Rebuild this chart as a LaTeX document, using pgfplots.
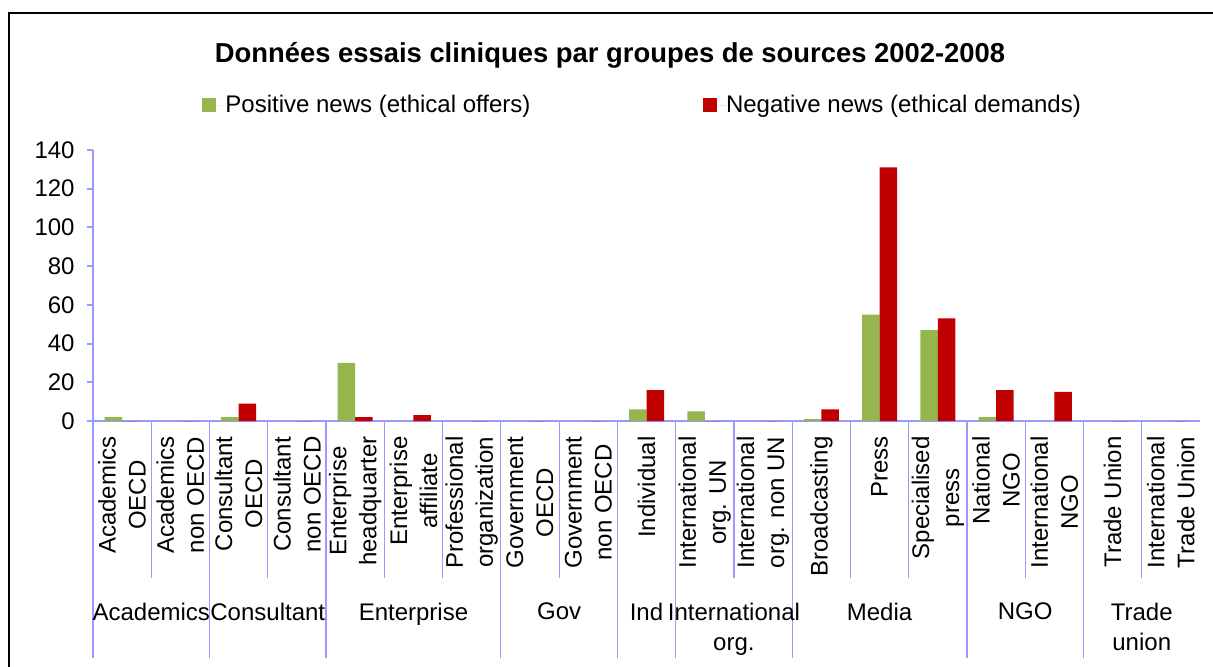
\documentclass[border=0pt]{standalone}
\usepackage{fontspec}
\setmainfont{Liberation Sans}
\usepackage{pgfplots}
\pgfplotsset{compat=1.18}
\definecolor{axcol}{RGB}{153,153,255}
\definecolor{gbar}{RGB}{148,182,76}
\definecolor{rbar}{RGB}{192,0,0}
\pgfplotsset{sqlegend/.style={legend image code/.code={\fill[##1] (0pt,-3.5pt) rectangle (7pt,3.5pt); \path (0pt,0pt) -- (11.5pt,0pt);}}}
\begin{document}
\begin{tikzpicture}
\useasboundingbox (0,0) rectangle (606.5pt,333pt);
\draw[line width=1.3pt] (4.5pt,-1pt) -- (4.5pt,326.5pt) -- (607pt,326.5pt);
\node[font=\fontsize{13.7}{16}\selectfont\bfseries, anchor=base, inner sep=0pt] at (305pt,302pt) {Données essais cliniques par groupes de sources 2002-2008};
\begin{axis}[
  at={(46.5pt,122.5pt)}, anchor=south west,
  scale only axis, width=553.5pt, height=135.5pt,
  xmin=-0.5, xmax=18.5, ymin=0, ymax=140,
  axis x line=bottom, axis y line=left,
  axis line style={-, draw=axcol, line width=1pt},
  ytick={0,20,...,140},
  tick align=outside,
  major tick length=3pt,
  every tick/.style={draw=axcol, line width=1pt},
  yticklabel style={font=\fontsize{12}{14}\selectfont, inner sep=0pt},
  yticklabel shift=6pt,
  xticklabel shift=4.5pt,
  /pgf/number format/assume math mode=true,
  xtick={0,...,18},
  xticklabels={{Academics\\OECD},{Academics\\non OECD},{Consultant\\OECD},{Consultant\\non OECD},{Enterprise\\headquarter},{Enterprise\\affiliate},{Professional\\organization},{Government\\OECD},{Government\\non OECD},{Individual},{International\\org. UN},{International\\org. non UN},{Broadcasting},{Press},{Specialised\\press},{National\\NGO},{International\\NGO},{Trade Union},{International\\Trade Union}},
  major x tick style={draw=none},
  xticklabel style={rotate=90, anchor=east, align=center, inner sep=0pt, font=\fontsize{12}{15}\selectfont},
  minor xtick={0.5,2.5,4.5,5.5,7.5,10.5,12.5,13.5,15.5,17.5},
  minor tick length=78.5pt,
  minor x tick style={draw=axcol, line width=0.6pt},
  extra x ticks={-0.5,1.5,3.5,6.5,8.5,9.5,11.5,14.5,16.5},
  extra x tick labels={},
  extra x tick style={major tick length=118.5pt, major x tick style={draw=axcol, line width=0.6pt}},
  clip=false,
  legend columns=2,
  legend style={draw=none, fill=none, at={(0.0985,1.166)}, anchor=west, inner sep=0pt,
    font=\fontsize{12}{14}\selectfont, nodes={inner sep=0pt},
    /tikz/every even column/.append style={column sep=86.3pt}},
]
\addplot[ybar, bar width=8.75pt, bar shift=-4.375pt, fill=gbar, draw=none, sqlegend]
  coordinates {(0,2) (1,0) (2,2) (3,0) (4,30) (5,0) (6,0) (7,0) (8,0) (9,6) (10,5) (11,0) (12,1) (13,55) (14,47) (15,2) (16,0) (17,0) (18,0)};
\addlegendentry{Positive news (ethical offers)}
\addplot[ybar, bar width=8.75pt, bar shift=4.375pt, fill=rbar, draw=none, sqlegend]
  coordinates {(0,0) (1,0) (2,9) (3,0) (4,2) (5,3) (6,0) (7,0) (8,0) (9,16) (10,0) (11,0) (12,6) (13,131) (14,53) (15,16) (16,15) (17,0) (18,0)};
\addlegendentry{Negative news (ethical demands)}
\begin{scope}[every node/.style={anchor=north, align=center, inner sep=0pt, font=\fontsize{12}{15}\selectfont, yshift=-90.75pt}]
\node at (axis cs:0.5,0) {Academics};
\node at (axis cs:2.5,0) {Consultant};
\node at (axis cs:5,0) {Enterprise};
\node at (axis cs:7.5,0) {Gov};
\node at (axis cs:9,0) {Ind};
\node at (axis cs:10.5,0) {International\\org.};
\node at (axis cs:13,0) {Media};
\node at (axis cs:15.5,0) {NGO};
\node at (axis cs:17.5,0) {Trade\\union};
\end{scope}
\end{axis}
\end{tikzpicture}
\end{document}
